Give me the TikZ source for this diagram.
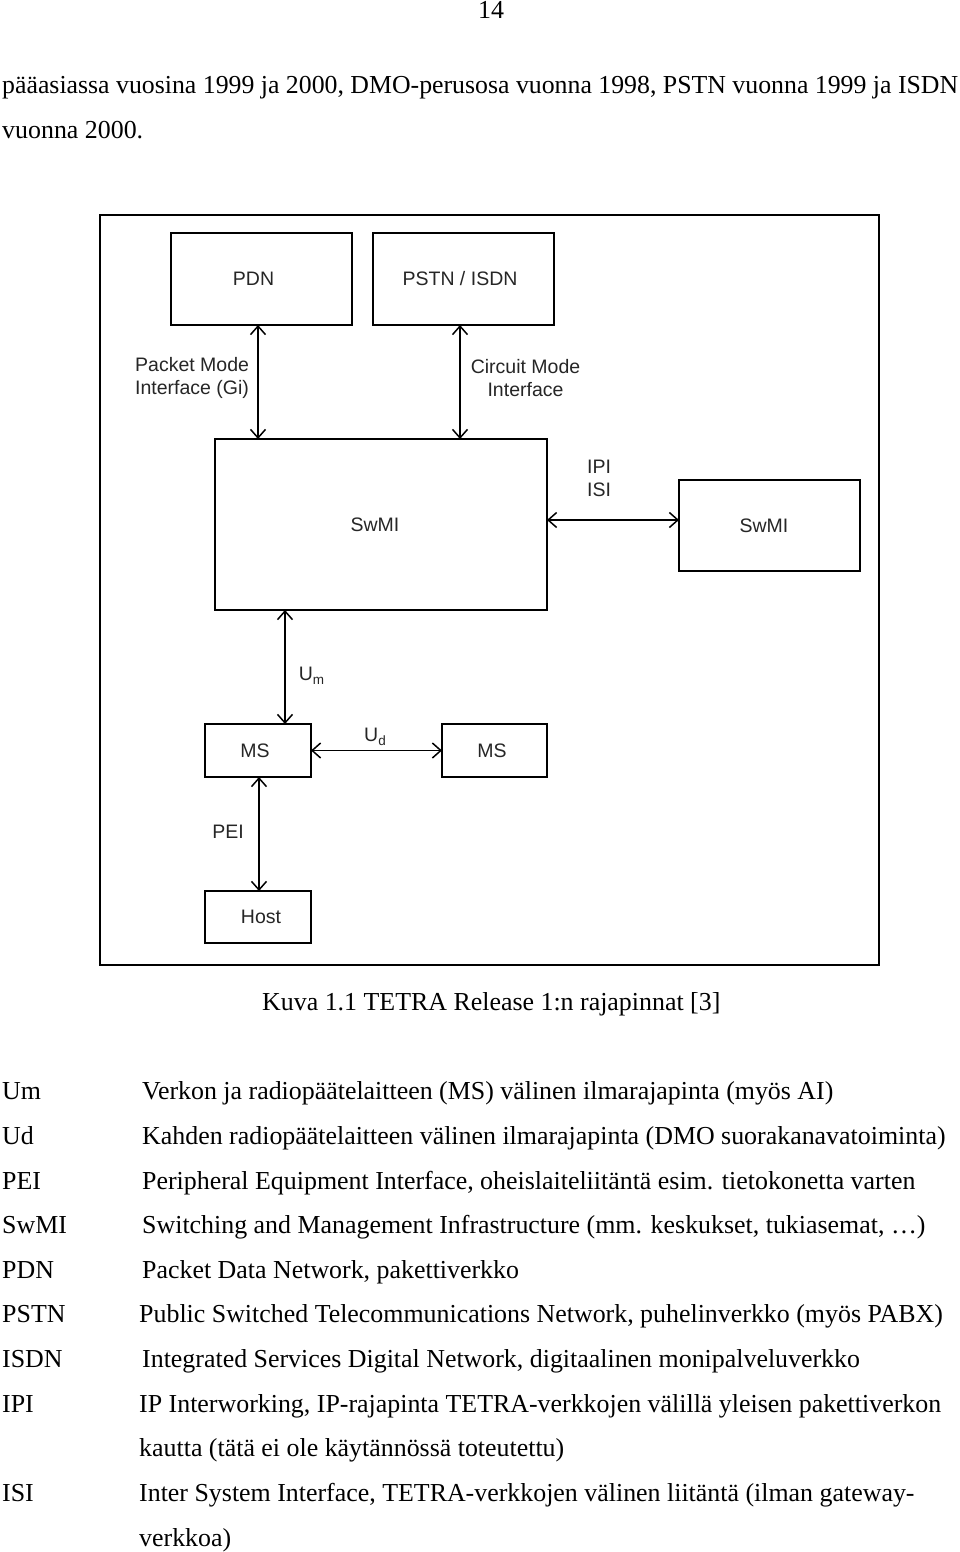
\documentclass[tikz,border=0pt]{standalone}
\usepackage{fontspec}
\setmainfont{Liberation Serif}
\newfontfamily\arial{Liberation Sans}
\usetikzlibrary{arrows.meta}
\newcommand{\bodyfont}{\fontsize{25.9}{30}\selectfont}
\newcommand{\diagfont}{\arial\fontsize{19.5}{23}\selectfont}
\begin{document}
\begin{tikzpicture}[x=1pt,y=-1pt,
  boxnode/.style={draw, line width=1.4pt, inner sep=0pt, outer sep=0pt, font=\diagfont, text=black!85},
  dlabel/.style={inner sep=0pt, font=\diagfont, text=black!85},
  darr/.style={line width=1.5pt, {Straight Barb[length=8.5pt,width=15pt,line width=1.5pt]}-{Straight Barb[length=8.5pt,width=15pt,line width=1.5pt]}},
  txt/.style={inner sep=0pt, anchor=base west, font=\bodyfont},
  abbr/.style={txt}
]
\useasboundingbox (0,0) rectangle (960,1552);
\fill[white] (0,0) rectangle (960,1552);

% page number and paragraph
\node[inner sep=0pt, anchor=base, font=\bodyfont] (pnum) at (491,19) {14};
\node[txt] (p1) at (2,94) {\resizebox{956pt}{\height}{pääasiassa vuosina 1999 ja 2000, DMO-perusosa vuonna 1998, PSTN vuonna 1999 ja ISDN}};
\node[txt] (p2) at (2,139) {vuonna 2000.};

% frame
\node[draw, line width=1.4pt, inner sep=0pt, minimum width=779pt, minimum height=750pt] (frame) at (489.5,590) {};

% boxes
\node[boxnode, minimum width=181pt, minimum height=92pt] (pdn) at (261.5,279) {\hspace*{-16pt}PDN};
\node[boxnode, minimum width=181pt, minimum height=92pt] (pstn) at (463.5,279) {\hspace*{-7pt}PSTN / ISDN};
\node[boxnode, minimum width=332pt, minimum height=171pt] (swmi) at (381,524.5) {\hspace*{-12pt}SwMI};
\node[boxnode, minimum width=181pt, minimum height=91pt] (swmi2) at (769.5,525.5) {\hspace*{-11pt}SwMI};
\node[boxnode, minimum width=106pt, minimum height=53pt] (ms1) at (258,750.5) {\hspace*{-6pt}MS};
\node[boxnode, minimum width=105pt, minimum height=53pt] (ms2) at (494.5,750.5) {\hspace*{-5pt}MS};
\node[boxnode, minimum width=106pt, minimum height=52pt] (host) at (258,917) {Host\hspace*{-6pt}};

% connectors
\draw[darr] ([xshift=-3.5pt]pdn.south) -- ([xshift=-3.5pt]pdn.south |- swmi.north);
\draw[darr] ([xshift=-3.5pt]pstn.south) -- ([xshift=-3.5pt]pstn.south |- swmi.north);
\draw[darr] ([yshift=5.5pt]swmi2.west -| swmi.east) -- ([yshift=5.5pt]swmi2.west);
\draw[darr] ([xshift=27pt]ms1.north |- swmi.south) -- ([xshift=27pt]ms1.north);
\draw[darr] (ms1.east) -- (ms2.west);
\draw[darr] ([xshift=1pt]ms1.south) -- ([xshift=1pt]host.north);

% connector labels
\node[dlabel, align=left, anchor=west] (lgi) at (135,378) {Packet Mode\\Interface (Gi)};
\node[dlabel, align=center] (lcm) at (525.5,378) {Circuit Mode\\Interface};
\node[dlabel, align=left] (lipi) at (599,478.5) {IPI\\ISI};
\node[dlabel] (lum) at (311.5,676) {U\raisebox{-0.35ex}{\fontsize{13.5}{13.5}\selectfont m}};
\node[dlabel] (lud) at (375,737) {U\raisebox{-0.35ex}{\fontsize{13.5}{13.5}\selectfont d}};
\node[dlabel] (lpei) at (228,832) {PEI};

% caption
\node[txt] (cap) at (262,1010) {Kuva 1.1 TETRA Release 1:n rajapinnat [3]};

% legend
\node[abbr] (a1) at (2,1099) {Um};
\node[txt] (d1) at (142,1099) {Verkon ja radiopäätelaitteen (MS) välinen ilmarajapinta (myös AI)};
\node[abbr] (a2) at (2,1144) {Ud};
\node[txt] (d2) at (142,1144) {Kahden radiopäätelaitteen välinen ilmarajapinta (DMO suorakanavatoiminta)};
\node[abbr] (a3) at (2,1189) {PEI};
\node[txt] (d3) at (142,1189) {Peripheral Equipment Interface, oheislaiteliitäntä esim. tietokonetta varten};
\node[abbr] (a4) at (2,1233) {SwMI};
\node[txt] (d4) at (142,1233) {Switching and Management Infrastructure (mm. keskukset, tukiasemat, …)};
\node[abbr] (a5) at (2,1278) {PDN};
\node[txt] (d5) at (142,1278) {Packet Data Network, pakettiverkko};
\node[abbr] (a6) at (2,1322) {PSTN};
\node[txt] (d6) at (139,1322) {Public Switched Telecommunications Network, puhelinverkko (myös PABX)};
\node[abbr] (a7) at (2,1367) {ISDN};
\node[txt] (d7) at (142,1367) {Integrated Services Digital Network, digitaalinen monipalveluverkko};
\node[abbr] (a8) at (2,1412) {IPI};
\node[txt] (d8) at (139,1412) {IP Interworking, IP-rajapinta TETRA-verkkojen välillä yleisen pakettiverkon};
\node[txt] (d8b) at (139,1456) {kautta (tätä ei ole käytännössä toteutettu)};
\node[abbr] (a9) at (2,1501) {ISI};
\node[txt] (d9) at (139,1501) {Inter System Interface, TETRA-verkkojen välinen liitäntä (ilman gateway-};
\node[txt] (d9b) at (139,1546) {verkkoa)};
\end{tikzpicture}
\end{document}
